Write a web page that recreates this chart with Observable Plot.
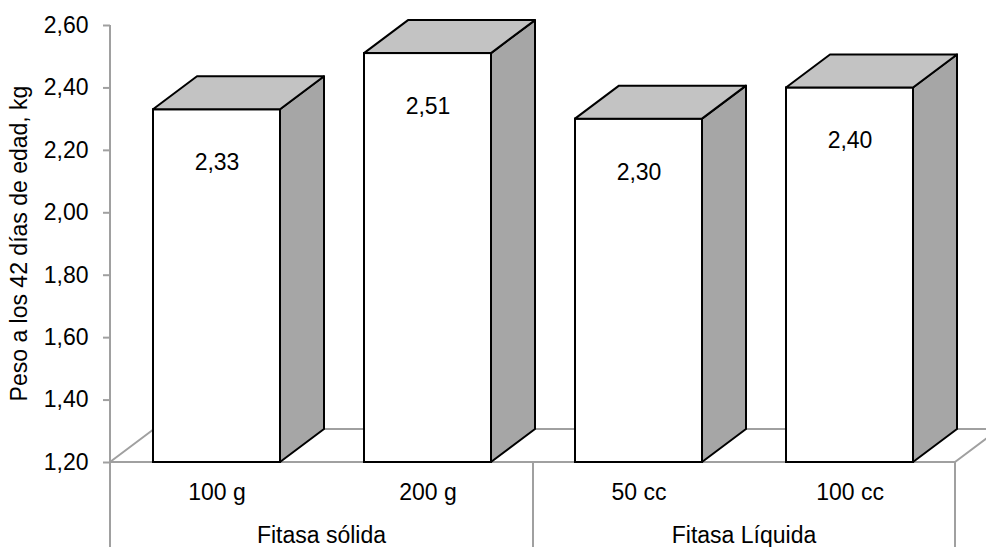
<!DOCTYPE html>
<html><head><meta charset="utf-8">
<script src="https://cdn.jsdelivr.net/npm/d3@7"></script>
<script src="https://cdn.jsdelivr.net/npm/@observablehq/plot@0.6"></script>
<style>
html,body{margin:0;padding:0;background:#fff;}
</style></head><body><div id="chart"></div>
<script>
// ---- data ----
const categories = ["100 g", "200 g", "50 cc", "100 cc"];
const groupOf = ["Fitasa sólida", "Fitasa sólida", "Fitasa Líquida", "Fitasa Líquida"];
const groupNames = ["Fitasa sólida", "Fitasa Líquida"];
const values = [2.33, 2.51, 2.30, 2.40];
const yTicks = [1.2, 1.4, 1.6, 1.8, 2.0, 2.2, 2.4, 2.6];
const yTitle = "Peso a los 42 días de edad, kg";

const data = categories.map((c, i) => ({category: c, group: groupOf[i], value: values[i]}));
const fmt = v => d3.format(".2f")(v).replace(".", ",");

const BASE = 1.2;          // floor value
const DEPTH_X = 44, DEPTH_Y = 33;   // 3D depth in px
const GRID = "#a0a0a0";
const FONT = "'Liberation Sans', Arial, sans-serif";

// floor, axis line, category table lines, group labels, y title
function floorMark(index, scales, vals, dims) {
  const g = d3.create("svg:g");
  const x0 = dims.marginLeft, x1 = dims.width - dims.marginRight;
  const yb = scales.y(BASE), yt = scales.y(yTicks[yTicks.length - 1]);
  g.append("path")
    .attr("d", `M${x0},${yb}L${x1},${yb}L${x1 + DEPTH_X},${yb - DEPTH_Y}L${x0 + DEPTH_X},${yb - DEPTH_Y}Z`)
    .attr("fill", "none").attr("stroke", GRID).attr("stroke-width", 2).attr("stroke-linejoin", "round");
  // y axis line + left table line
  g.append("line").attr("x1", x0).attr("x2", x0).attr("y1", yt).attr("y2", dims.height)
    .attr("stroke", GRID).attr("stroke-width", 2);
  // group dividers and labels
  const bw = scales.x.bandwidth();
  const edges = [x0];
  groupNames.forEach((gname) => {
    const members = categories.filter((c, i) => groupOf[i] === gname);
    const last = members[members.length - 1];
    const nextIdx = categories.indexOf(last) + 1;
    if (nextIdx < categories.length) {
      edges.push((scales.x(last) + bw + scales.x(categories[nextIdx])) / 2);
    } else edges.push(x1);
  });
  edges.forEach(e => g.append("line").attr("x1", e).attr("x2", e).attr("y1", yb).attr("y2", dims.height)
    .attr("stroke", GRID).attr("stroke-width", 2));
  groupNames.forEach((gname, gi) => {
    g.append("text").attr("x", (edges[gi] + edges[gi + 1]) / 2).attr("y", yb + 81)
      .attr("text-anchor", "middle").attr("fill", "black").style("font-size", "23px").text(gname);
  });
  // y axis title
  g.append("text")
    .attr("transform", `translate(27,${(yb + yt) / 2}) rotate(-90)`)
    .attr("text-anchor", "middle").attr("fill", "black").style("font-size", "23px").text(yTitle);
  return g.node();
}

// side and top faces of each 3D bar
function boxMark(index, scales, vals, dims) {
  const g = d3.create("svg:g");
  const bw = scales.x.bandwidth();
  const yb = scales.y(BASE);
  data.forEach(d => {
    const xl = scales.x(d.category), xr = xl + bw, yt = scales.y(d.value);
    g.append("path")
      .attr("d", `M${xr},${yb}L${xr},${yt}L${xr + DEPTH_X},${yt - DEPTH_Y}L${xr + DEPTH_X},${yb - DEPTH_Y}Z`)
      .attr("fill", "#a6a6a6").attr("stroke", "black").attr("stroke-width", 2).attr("stroke-linejoin", "round");
    g.append("path")
      .attr("d", `M${xl},${yt}L${xl + DEPTH_X},${yt - DEPTH_Y}L${xr + DEPTH_X},${yt - DEPTH_Y}L${xr},${yt}Z`)
      .attr("fill", "#c3c3c3").attr("stroke", "black").attr("stroke-width", 2).attr("stroke-linejoin", "round");
  });
  return g.node();
}

const chart = Plot.plot({
  width: 986,
  height: 547,
  marginLeft: 110,
  marginRight: 31,
  marginTop: 25,
  marginBottom: 85,
  style: {fontFamily: FONT, fontSize: "23px", color: "black", background: "white", overflow: "visible"},
  x: {domain: categories, paddingInner: 0.4, paddingOuter: 0.2},
  y: {domain: [BASE, yTicks[yTicks.length - 1]]},
  marks: [
    floorMark,
    Plot.barY(data, {x: "category", y1: BASE, y2: "value", fill: "white", stroke: "black", strokeWidth: 2}),
    boxMark,
    Plot.text(data, {x: "category", y: "value", text: d => fmt(d.value), dy: 53, fill: "black"}),
    Plot.axisY({ticks: yTicks, tickFormat: fmt, tickSize: 7, tickPadding: 15, stroke: GRID, strokeWidth: 2,
      fill: "black", label: null}),
    Plot.axisX({tickSize: 0, tickPadding: 21, fill: "black", label: null})
  ]
});
document.getElementById("chart").appendChild(chart);
</script>
</body></html>
